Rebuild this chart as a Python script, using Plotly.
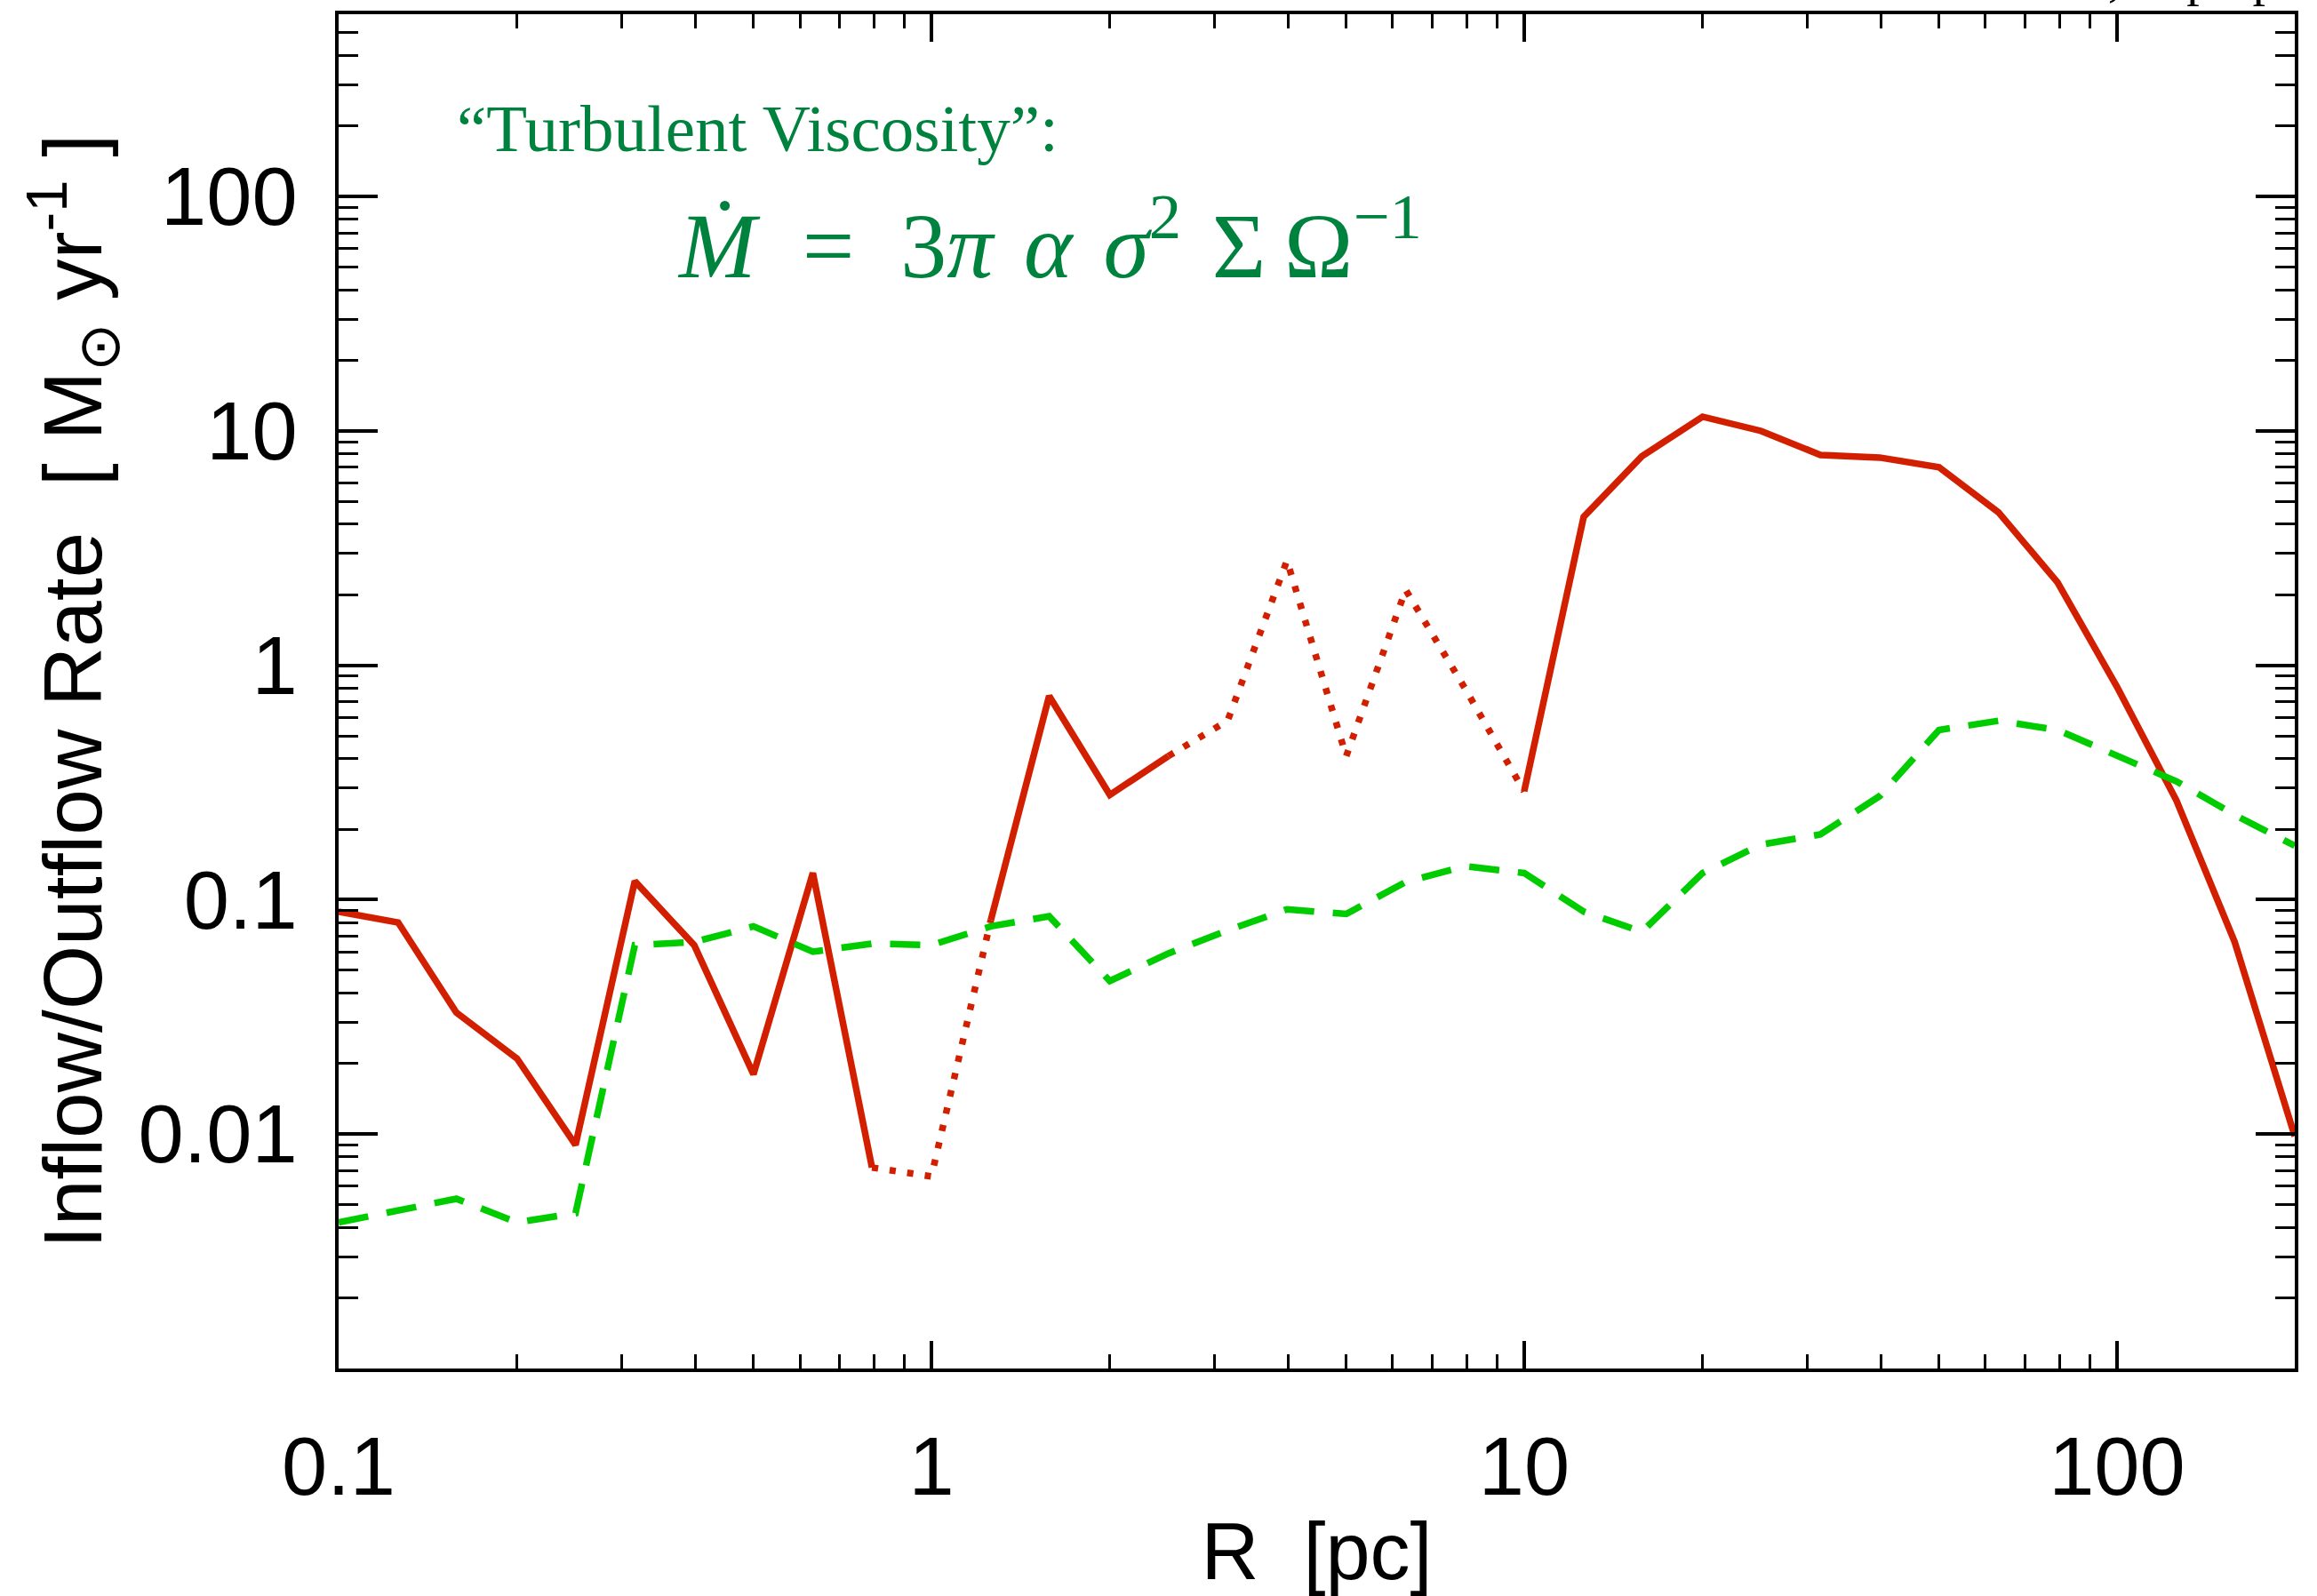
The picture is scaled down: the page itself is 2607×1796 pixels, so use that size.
import plotly.graph_objects as go

# ---------------- data ----------------
R_pc = [0.1, 0.126, 0.158, 0.2, 0.251, 0.316, 0.398, 0.501, 0.631, 0.794,
        1.0, 1.26, 1.58, 2.0, 2.51, 3.16, 3.98, 5.01, 6.31, 7.94,
        10.0, 12.6, 15.8, 20.0, 25.1, 31.6, 39.8, 50.1, 63.1, 79.4,
        100.0, 126.0, 158.0, 199.5]

# measured inflow/outflow rate (red); dotted parts mark outflow
rate_measured = [0.089, 0.080, 0.033, 0.021, 0.0090, 0.12, 0.064, 0.018, 0.13, 0.0072,
                 0.0066, 0.082, 0.74, 0.28, 0.41, 0.58, 2.8, 0.41, 2.1, 0.80,
                 0.29, 4.3, 7.8, 11.5, 10.0, 7.9, 7.7, 7.0, 4.5, 2.26,
                 0.81, 0.265, 0.066, 0.0098]

# segments of the red curve: (first index, last index, outflow?)
red_segments = [(0, 9, False), (9, 11, True), (11, 14, False), (14, 20, True), (20, 33, False)]

# turbulent-viscosity prediction (green dashed)
rate_viscous = [0.0042, 0.0047, 0.0053, 0.0042, 0.0046, 0.064, 0.066, 0.077, 0.060, 0.065,
                0.064, 0.077, 0.085, 0.045, 0.059, 0.074, 0.091, 0.087, 0.119, 0.139,
                0.130, 0.089, 0.073, 0.130, 0.172, 0.19, 0.277, 0.53, 0.58, 0.53,
                0.41, 0.32, 0.23, 0.17]

x_tickvals = [0.1, 1, 10, 100]
x_ticktext = ["0.1", "1", "10", "100"]
y_tickvals = [0.01, 0.1, 1, 10, 100]
y_ticktext = ["0.01", "0.1", "1", "10", "100"]

x_minor = [m * d for d in [0.1, 1, 10] for m in range(2, 10)] + [200]
y_minor = [m * d for d in [0.001, 0.01, 0.1, 1, 10, 100] for m in range(2, 10)]

# ---------------- styling ----------------
RED = "#d21f00"
GREEN_LINE = "#00cc00"
GREEN_TEXT = "#00823f"
SANS = "Liberation Sans, Arial, Helvetica, sans-serif"
SERIF = "Liberation Serif, Times New Roman, serif"

fig = go.Figure()

for i0, i1, outflow in red_segments:
    fig.add_trace(go.Scatter(
        x=R_pc[i0:i1 + 1], y=rate_measured[i0:i1 + 1], mode="lines",
        line=dict(color=RED, width=7.5, dash="7px,13px" if outflow else "solid"),
        showlegend=False, hoverinfo="skip"))

fig.add_trace(go.Scatter(
    x=R_pc, y=rate_viscous, mode="lines",
    line=dict(color=GREEN_LINE, width=7.5, dash="34px,21px"),
    showlegend=False, hoverinfo="skip"))

axis_common = dict(
    type="log", showgrid=False, zeroline=False,
    showline=True, linecolor="black", linewidth=4, mirror="allticks",
    ticks="inside", tickwidth=3.5, tickcolor="black",
    tickfont=dict(family=SANS, size=92, color="black"),
    tickmode="array",
)

fig.update_xaxes(
    **axis_common, range=[-1, 2.3], ticklen=31,
    tickvals=x_tickvals, ticktext=x_ticktext, ticklabelstandoff=28,
    minor=dict(ticks="inside", ticklen=16, tickwidth=3, tickcolor="black",
               tickmode="array", tickvals=x_minor),
    title=dict(text="R&nbsp;&nbsp;[pc]", font=dict(family=SANS, size=90, color="black"),
               standoff=20),
)
fig.update_yaxes(
    **axis_common, range=[-3, 2.778], ticklen=44,
    tickvals=y_tickvals, ticktext=y_ticktext, ticklabelstandoff=24,
    minor=dict(ticks="inside", ticklen=22, tickwidth=3, tickcolor="black",
               tickmode="array", tickvals=y_minor),
    title=dict(text="Inflow/Outflow Rate&nbsp;&nbsp;[ M<sub>⊙</sub> yr<sup>-1</sup> ]",
               font=dict(family=SANS, size=93, color="black"), standoff=11),
)

fig.add_annotation(
    text="“Turbulent Viscosity”:", xref="paper", yref="paper",
    x=0.0595, y=0.916, xanchor="left", yanchor="middle", showarrow=False,
    font=dict(family=SERIF, size=75, color=GREEN_TEXT))

fig.add_annotation(
    text=("<i>Ṁ</i>\u2002=\u20023<i>π</i>\u2004<i>α</i>\u2004<i>σ</i><sup>2</sup>"
          "\u2004Σ\u2009Ω<sup>−1</sup>"),
    xref="paper", yref="paper", x=0.172, y=0.834, xanchor="left", yanchor="middle",
    showarrow=False, font=dict(family=SERIF, size=104, color=GREEN_TEXT))

fig.add_annotation(
    text="et al., in prep", xref="paper", yref="paper",
    x=0.9923, y=1.004, xanchor="right", yanchor="bottom", showarrow=False,
    font=dict(family=SERIF, size=58, color="black"))

fig.update_layout(
    width=2607, height=1796,
    margin=dict(l=381, r=25, t=13, b=238, pad=0),
    paper_bgcolor="white", plot_bgcolor="white",
)

fig.write_html("out.html")
